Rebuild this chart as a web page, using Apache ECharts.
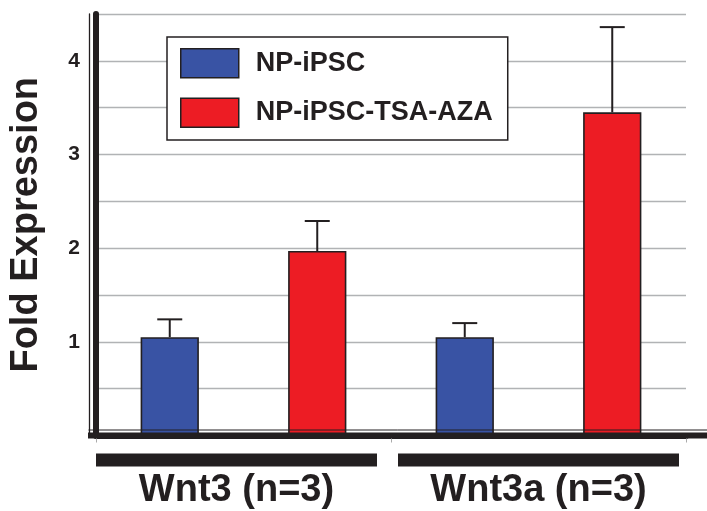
<!DOCTYPE html>
<html>
<head>
<meta charset="utf-8">
<script src="https://cdn.jsdelivr.net/npm/echarts@6/dist/echarts.min.js"></script>
<style>html,body{margin:0;padding:0;background:#fff}#c{width:707px;height:511px}</style>
</head>
<body>
<div id="c"></div>
<script>
// ---- data ----
var slots = ['Wnt3 NP-iPSC', 'Wnt3 NP-iPSC-TSA-AZA', 'Wnt3a NP-iPSC', 'Wnt3a NP-iPSC-TSA-AZA'];
var groups = ['Wnt3 (n=3)', 'Wnt3a (n=3)'];
var seriesNames = ['NP-iPSC', 'NP-iPSC-TSA-AZA'];
var npValues = [1.05, null, 1.05, null];
var npErrTop = [1.24, null, 1.20, null];
var tsaValues = [null, 1.97, null, 3.45];
var tsaErrTop = [null, 2.29, null, 4.36];
var yTicks = [1, 2, 3, 4];

var DARK = '#231f20';
var FONT = '"Liberation Sans", Arial, Helvetica, sans-serif';

function errData(vals, errs) {
  var out = [];
  for (var i = 0; i < vals.length; i++) {
    if (vals[i] != null && errs[i] != null) out.push([i, vals[i], errs[i]]);
  }
  return out;
}
function renderErr(params, api) {
  var x = api.value(0), v = api.value(1), e = api.value(2);
  var p0 = api.coord([x, v]);
  var p1 = api.coord([x, e]);
  var st = { stroke: DARK, lineWidth: 2 };
  return {
    type: 'group',
    children: [
      { type: 'line', shape: { x1: p0[0], y1: p0[1], x2: p1[0], y2: p1[1] }, style: st },
      { type: 'line', shape: { x1: p1[0] - 12.5, y1: p1[1], x2: p1[0] + 12.5, y2: p1[1] }, style: st }
    ]
  };
}

var chart = echarts.init(document.getElementById('c'));
chart.setOption({
  animation: false,
  textStyle: { fontFamily: FONT },
  grid: { left: 96, right: 21, top: 14, bottom: 75.5 },
  legend: {
    data: seriesNames,
    orient: 'vertical',
    left: 167, top: 37,
    padding: [11, 15, 12, 13],
    itemWidth: 58, itemHeight: 29, itemGap: 19,
    borderColor: DARK, borderWidth: 1.5, backgroundColor: '#fff',
    icon: 'rect',
    itemStyle: { borderColor: DARK, borderWidth: 1.5 },
    textStyle: { fontSize: 27, fontWeight: 'bold', color: DARK, fontFamily: FONT, width: 240, padding: [0, 0, 0, 12] },
    z: 10
  },
  xAxis: [{
    type: 'category',
    data: slots,
    z: 5,
    axisLine: { lineStyle: { color: DARK, width: 6 } },
    axisTick: { show: true, length: 7, lineStyle: { color: '#aaa', width: 1 } },
    axisLabel: { show: false },
    splitLine: { show: false }
  }, {
    type: 'category',
    position: 'bottom',
    data: [
      { value: groups[0], textStyle: { padding: [0, 14, 0, 0] } },
      { value: groups[1] }
    ],
    axisLine: { show: false },
    axisTick: { show: false },
    axisLabel: {
      margin: 18,
      interval: 0,
      formatter: function (v) { return '{bar| }\n{t|' + v + '}'; },
      rich: {
        bar: { width: 281, height: 13, lineHeight: 13, backgroundColor: DARK, fontSize: 1 },
        t: { fontSize: 38, fontWeight: 'bold', color: DARK, lineHeight: 49, align: 'center', fontFamily: FONT }
      }
    }
  }],
  yAxis: [{
    type: 'value',
    min: 0, max: 4.5, interval: 0.5,
    axisLine: { show: true, lineStyle: { color: DARK, width: 6 } },
    axisTick: { show: false },
    axisLabel: {
      margin: 16,
      fontSize: 21, fontWeight: 'bold', color: DARK, fontFamily: FONT,
      formatter: function (v) { return yTicks.indexOf(v) >= 0 ? String(v) : ''; }
    },
    splitLine: { show: true, lineStyle: { color: '#b1b3b5', width: 1.3 } },
    name: 'Fold Expression',
    nameLocation: 'middle',
    nameGap: 50,
    nameTextStyle: { fontSize: 38, fontWeight: 'bold', color: DARK, fontFamily: FONT }
  }, {
    type: 'value',
    position: 'left',
    offset: 7,
    min: 0, max: 4.5, interval: 0.5,
    axisLine: { show: true, lineStyle: { color: DARK, width: 1.3 } },
    axisTick: { show: false },
    axisLabel: { show: false },
    splitLine: { show: false }
  }],
  series: [{
    name: seriesNames[0], type: 'bar', data: npValues,
    barWidth: '39.5%', barGap: '-100%',
    itemStyle: { color: '#3953a4', borderColor: DARK, borderWidth: 1.6 }
  }, {
    name: seriesNames[1], type: 'bar', data: tsaValues,
    barWidth: '39.5%', barGap: '-100%',
    itemStyle: { color: '#ed1c24', borderColor: DARK, borderWidth: 1.6 }
  }, {
    name: 'err1', type: 'custom', renderItem: renderErr, data: errData(npValues, npErrTop), z: 3,
    encode: { x: 0, y: [1, 2] }
  }, {
    name: 'err2', type: 'custom', renderItem: renderErr, data: errData(tsaValues, tsaErrTop), z: 3,
    encode: { x: 0, y: [1, 2] }
  }]
});

// extend the floor lines beyond the grid, positions taken from the chart's own scale
var zeroY = chart.convertToPixel({ yAxisIndex: 0 }, 0);
var rect = chart.getModel().getComponent('grid', 0).coordinateSystem.getRect();
var W = chart.getWidth();
chart.setOption({
  graphic: [
    { type: 'line', z: 6, shape: { x1: rect.x - 7.5, y1: zeroY - 5.5, x2: W, y2: zeroY - 5.5 }, style: { stroke: DARK, lineWidth: 1 } },
    { type: 'line', z: 7, shape: { x1: rect.x - 8, y1: zeroY, x2: W, y2: zeroY }, style: { stroke: DARK, lineWidth: 6 } }
  ]
});
</script>
</body>
</html>
